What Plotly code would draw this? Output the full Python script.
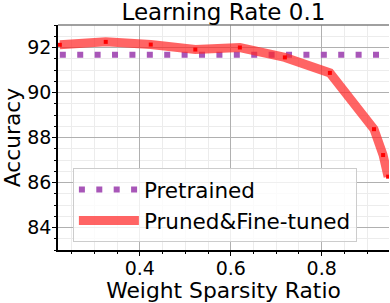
import plotly.graph_objects as go

sparsity = [0.224, 0.325, 0.424, 0.522, 0.62, 0.719, 0.818, 0.915, 0.935, 0.946]
pruned_acc = [92.12, 92.25, 92.13, 91.91, 92.0, 91.56, 90.87, 88.37, 87.22, 86.26]
pretrained_acc = [91.68] * len(sparsity)
x_ticks = [0.4, 0.6, 0.8]
y_ticks = [84, 86, 88, 90, 92]

FONT = "DejaVu Sans"

fig = go.Figure()
fig.add_trace(go.Scatter(
    x=sparsity, y=pretrained_acc, mode="lines", name="Pretrained",
    line=dict(color="#a856b8", width=6, dash="6px,11.4px"),
))
fig.add_trace(go.Scatter(
    x=sparsity, y=pruned_acc, mode="lines", name="Pruned&Fine-tuned",
    line=dict(color="rgba(255,40,40,0.72)", width=9),
))
fig.add_trace(go.Scatter(
    x=sparsity, y=pruned_acc, mode="markers", showlegend=False,
    marker=dict(color="red", size=4, symbol="square"),
))

fig.update_layout(
    width=390, height=303,
    margin=dict(l=58, r=1, t=25, b=53, autoexpand=False),
    plot_bgcolor="white", paper_bgcolor="white",
    font=dict(family=FONT, color="black", size=19),
    title=dict(text="Learning Rate 0.1", x=0.573, xanchor="center", y=0.96, yanchor="middle",
               font=dict(size=23, family=FONT), automargin=False),
    showlegend=True,
    legend=dict(x=0.045, y=0.364, xanchor="left", yanchor="top",
                bgcolor="rgba(255,255,255,0.8)", bordercolor="#cccccc", borderwidth=1,
                font=dict(size=21.5, family=FONT), itemwidth=60, tracegroupgap=0),
    xaxis=dict(
        range=[0.22, 0.948], tickvals=x_ticks, ticktext=[f"{v:.1f}" for v in x_ticks],
        showline=True, linecolor="black", linewidth=1.5, ticks="outside", ticklen=4, tickwidth=1,
        tickcolor="black", showgrid=True, gridcolor="#b0b0b0", gridwidth=1, zeroline=False,
        tickfont=dict(size=19), automargin=False, ticklabelstandoff=-4,
        title=dict(text="Weight Sparsity Ratio", font=dict(size=21.8), standoff=6),
        minor=dict(dtick=0.05, tick0=0.2, ticks="outside", ticklen=2, tickcolor="black",
                   showgrid=True, gridcolor="#ececec", gridwidth=1),
    ),
    yaxis=dict(
        range=[83, 93], tickvals=y_ticks,
        showline=True, linecolor="black", linewidth=1.5, ticks="outside", ticklen=4, tickwidth=1,
        tickcolor="black", showgrid=True, gridcolor="#b0b0b0", gridwidth=1, zeroline=False,
        tickfont=dict(size=19), automargin=False, ticklabelstandoff=-3,
        title=dict(text="Accuracy", font=dict(size=21.8), standoff=6),
        minor=dict(dtick=0.5, tick0=83, ticks="outside", ticklen=2, tickcolor="black",
                   showgrid=True, gridcolor="#ececec", gridwidth=1),
    ),
    shapes=[dict(type="line", xref="paper", yref="paper", x0=0, x1=1, y0=1, y1=1,
                 line=dict(color="#808080", width=1.5))],
)

fig.write_html("out.html", config={"displayModeBar": False},
               post_script="document.body.style.margin='0';")
